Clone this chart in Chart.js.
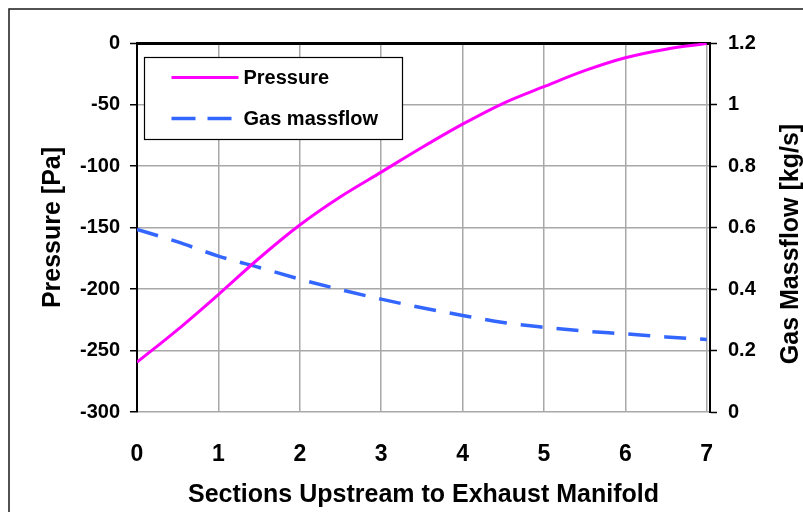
<!DOCTYPE html>
<html>
<head>
<meta charset="utf-8">
<title>Pressure and Gas Massflow</title>
<script src="https://cdn.jsdelivr.net/npm/chart.js@4.4.1/dist/chart.umd.min.js"></script>
<style>
  html, body { margin: 0; padding: 0; background: #fff; }
  #wrap { width: 803px; height: 512px; }
</style>
</head>
<body>
<div id="wrap"><canvas id="c" width="803" height="512"></canvas></div>
<script>
// Sections upstream to the exhaust manifold
const sections = [0, 0.5, 1, 1.5, 2, 2.5, 3, 3.5, 4, 4.5, 5, 5.5, 6, 6.5, 7];
// Static pressure [Pa]
const pressure = [-259.5, -233, -204.5, -175, -148, -125, -105, -85, -66, -49, -35.5, -22.5, -12, -5, -0.5];
// Gas massflow [kg/s]
const massflow = [0.594, 0.553, 0.507, 0.470, 0.432, 0.398, 0.367, 0.339, 0.314, 0.291, 0.2755, 0.263, 0.254, 0.244, 0.236];

const seriesNames = ['Pressure', 'Gas massflow'];
const xTitle = 'Sections Upstream to Exhaust Manifold';
const yTitle = 'Pressure [Pa]';
const y1Title = 'Gas Massflow [kg/s]';

const FONT = '"Liberation Sans", Arial, Helvetica, sans-serif';
Chart.defaults.font.family = FONT;
Chart.defaults.color = '#000';

const GRID = '#a8a8a8';

// Thin frame around the whole chart object (top and left edges visible)
const framePlugin = {
  id: 'frame',
  beforeDraw(chart) {
    const ctx = chart.ctx;
    ctx.save();
    ctx.strokeStyle = '#1a1a1a';
    ctx.lineWidth = 1.5;
    ctx.strokeRect(9, 9, chart.width + 40, chart.height + 40);
    ctx.restore();
  }
};

// Boxed legend inside the plot area, upper left
const boxLegendPlugin = {
  id: 'boxLegend',
  afterDatasetsDraw(chart) {
    const ctx = chart.ctx;
    const area = chart.chartArea;
    const x0 = area.left + 7.5, y0 = area.top + 14.5, w = 258, h = 82;
    ctx.save();
    ctx.fillStyle = '#fff';
    ctx.fillRect(x0, y0, w, h);
    ctx.strokeStyle = '#000';
    ctx.lineWidth = 1.2;
    ctx.strokeRect(x0, y0, w, h);
    ctx.font = 'bold 20px ' + FONT;
    ctx.textBaseline = 'middle';
    ctx.textAlign = 'left';
    const rows = [20, 61];
    chart.data.datasets.forEach((ds, i) => {
      const y = y0 + rows[i];
      ctx.strokeStyle = ds.borderColor;
      ctx.lineWidth = ds.borderWidth;
      ctx.setLineDash(ds.borderDash ? [24, 12] : []);
      ctx.beginPath();
      ctx.moveTo(x0 + 27, y);
      ctx.lineTo(x0 + 94, y);
      ctx.stroke();
      ctx.setLineDash([]);
      ctx.fillStyle = '#000';
      ctx.fillText(ds.label, x0 + 99, y + 1);
    });
    ctx.restore();
  }
};

// Right-hand axis title, reading bottom to top
const rightTitlePlugin = {
  id: 'rightTitle',
  afterDraw(chart) {
    const s = chart.scales.y1;
    const ctx = chart.ctx;
    ctx.save();
    ctx.translate(s.right - 12, (s.top + s.bottom) / 2 + 16.5);
    ctx.rotate(-Math.PI / 2);
    ctx.font = 'bold 25px ' + FONT;
    ctx.textAlign = 'center';
    ctx.textBaseline = 'middle';
    ctx.fillStyle = '#000';
    ctx.fillText(y1Title, 0, 0);
    ctx.restore();
  }
};

new Chart(document.getElementById('c'), {
  type: 'line',
  data: {
    labels: sections,
    datasets: [
      {
        label: seriesNames[0],
        data: sections.map((s, i) => ({ x: s, y: pressure[i] })),
        yAxisID: 'y',
        borderColor: '#ff00ff',
        borderWidth: 3,
        pointRadius: 0,
        fill: false,
        cubicInterpolationMode: 'monotone'
      },
      {
        label: seriesNames[1],
        data: sections.map((s, i) => ({ x: s, y: massflow[i] })),
        yAxisID: 'y1',
        borderColor: '#3366ff',
        borderWidth: 3.5,
        borderDash: [22, 14],
        pointRadius: 0,
        fill: false,
        cubicInterpolationMode: 'monotone'
      }
    ]
  },
  options: {
    responsive: false,
    animation: false,
    layout: { padding: { top: 43, left: 0, right: 0, bottom: 0 } },
    plugins: {
      legend: { display: false },
      tooltip: { enabled: false }
    },
    scales: {
      x: {
        type: 'linear',
        min: 0,
        max: 7.04,
        afterFit(s) { s.height = 100; },
        ticks: {
          stepSize: 1,
          includeBounds: false,
          padding: 29,
          font: { size: 23, weight: 'bold' },
          callback: v => (Number.isInteger(v) ? v : '')
        },
        grid: {
          color: ctx => (ctx.tick && ctx.tick.value === 0 ? 'rgba(0,0,0,0)' : GRID),
          lineWidth: 1.5,
          drawTicks: false
        },
        border: { display: false },
        title: {
          display: true,
          text: xTitle,
          font: { size: 25, weight: 'bold' },
          padding: { top: 0, bottom: 2 }
        }
      },
      y: {
        position: 'left',
        min: -300,
        max: 0,
        afterFit(s) { s.width = 137; },
        ticks: {
          stepSize: 50,
          padding: 10,
          font: { size: 20, weight: 'bold' }
        },
        grid: {
          color: ctx => (ctx.tick && ctx.tick.value === 0 ? '#000' : GRID),
          lineWidth: ctx => (ctx.tick && ctx.tick.value === 0 ? 3 : 1.5),
          tickColor: '#000',
          tickWidth: 1.5,
          tickLength: 7
        },
        border: { display: true, color: '#000', width: 2 },
        title: {
          display: true,
          text: yTitle,
          font: { size: 25, weight: 'bold' },
          padding: { top: 38, bottom: 0 }
        }
      },
      y1: {
        position: 'right',
        min: 0,
        max: 1.2,
        afterFit(s) { s.width = 93; },
        ticks: {
          stepSize: 0.2,
          padding: 11,
          font: { size: 20, weight: 'bold' },
          callback: v => +v.toFixed(1)
        },
        grid: {
          drawOnChartArea: false,
          color: '#000',
          tickColor: '#000',
          tickWidth: 1.5,
          tickLength: 7
        },
        border: { display: true, color: '#000', width: 2 }
      }
    }
  },
  plugins: [framePlugin, boxLegendPlugin, rightTitlePlugin]
});
</script>
</body>
</html>
